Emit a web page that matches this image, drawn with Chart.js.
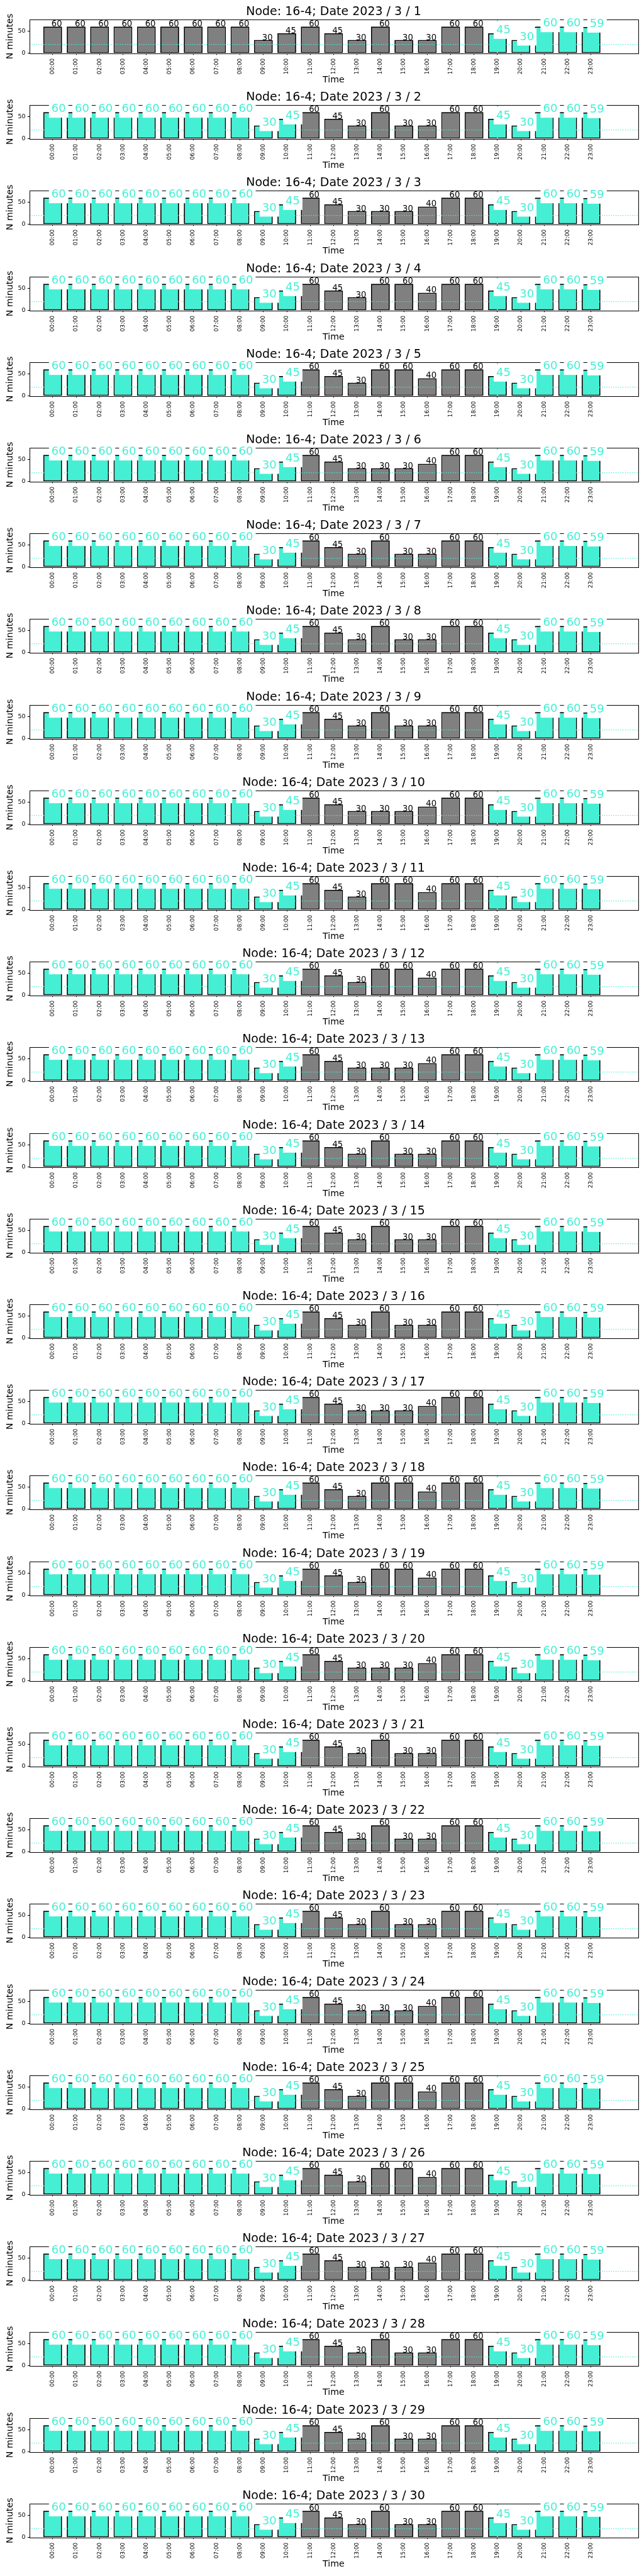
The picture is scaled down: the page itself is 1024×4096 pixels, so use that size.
<!DOCTYPE html>
<html>
<head>
<meta charset="utf-8">
<title>Node 16-4, March 2023</title>
<script src="https://cdn.jsdelivr.net/npm/chart.js@4.4.0/dist/chart.umd.min.js"></script>
<style>
  html, body { margin: 0; padding: 0; background: #fff; }
  #sheet { position: relative; width: 1024px; height: 4096px; overflow: hidden; }
  #sheet canvas { position: absolute; left: 0; }
</style>
</head>
<body>
<div id="sheet"></div>
<script>
// one panel per day

const nodeName = '16-4';
const year = 2023;
const month = 3;
const days = [1, 2, 3, 4, 5, 6, 7, 8, 9, 10, 11, 12, 13, 14, 15,
              16, 17, 18, 19, 20, 21, 22, 23, 24, 25, 26, 27, 28, 29, 30];

const hours = [0, 1, 2, 3, 4, 5, 6, 7, 8, 9, 10, 11,
               12, 13, 14, 15, 16, 17, 18, 19, 20, 21, 22, 23];
const hourLabels = ['00:00', '01:00', '02:00', '03:00', '04:00', '05:00',
                    '06:00', '07:00', '08:00', '09:00', '10:00', '11:00',
                    '12:00', '13:00', '14:00', '15:00', '16:00', '17:00',
                    '18:00', '19:00', '20:00', '21:00', '22:00', '23:00'];

// minutes recorded in each hour, one row per day
const minutes = [
  [60, 60, 60, 60, 60, 60, 60, 60, 60, 30, 45, 60, 45, 30, 60, 30, 30, 60, 60, 45, 30, 60, 60, 59], // 1
  [60, 60, 60, 60, 60, 60, 60, 60, 60, 30, 45, 60, 45, 30, 60, 30, 30, 60, 60, 45, 30, 60, 60, 59], // 2
  [60, 60, 60, 60, 60, 60, 60, 60, 60, 30, 45, 60, 45, 30, 30, 30, 40, 60, 60, 45, 30, 60, 60, 59], // 3
  [60, 60, 60, 60, 60, 60, 60, 60, 60, 30, 45, 60, 45, 30, 60, 60, 40, 60, 60, 45, 30, 60, 60, 59], // 4
  [60, 60, 60, 60, 60, 60, 60, 60, 60, 30, 45, 60, 45, 30, 60, 60, 40, 60, 60, 45, 30, 60, 60, 59], // 5
  [60, 60, 60, 60, 60, 60, 60, 60, 60, 30, 45, 60, 45, 30, 30, 30, 40, 60, 60, 45, 30, 60, 60, 59], // 6
  [60, 60, 60, 60, 60, 60, 60, 60, 60, 30, 45, 60, 45, 30, 60, 30, 30, 60, 60, 45, 30, 60, 60, 59], // 7
  [60, 60, 60, 60, 60, 60, 60, 60, 60, 30, 45, 60, 45, 30, 60, 30, 30, 60, 60, 45, 30, 60, 60, 59], // 8
  [60, 60, 60, 60, 60, 60, 60, 60, 60, 30, 45, 60, 45, 30, 60, 30, 30, 60, 60, 45, 30, 60, 60, 59], // 9
  [60, 60, 60, 60, 60, 60, 60, 60, 60, 30, 45, 60, 45, 30, 30, 30, 40, 60, 60, 45, 30, 60, 60, 59], // 10
  [60, 60, 60, 60, 60, 60, 60, 60, 60, 30, 45, 60, 45, 30, 60, 60, 40, 60, 60, 45, 30, 60, 60, 59], // 11
  [60, 60, 60, 60, 60, 60, 60, 60, 60, 30, 45, 60, 45, 30, 60, 60, 40, 60, 60, 45, 30, 60, 60, 59], // 12
  [60, 60, 60, 60, 60, 60, 60, 60, 60, 30, 45, 60, 45, 30, 30, 30, 40, 60, 60, 45, 30, 60, 60, 59], // 13
  [60, 60, 60, 60, 60, 60, 60, 60, 60, 30, 45, 60, 45, 30, 60, 30, 30, 60, 60, 45, 30, 60, 60, 59], // 14
  [60, 60, 60, 60, 60, 60, 60, 60, 60, 30, 45, 60, 45, 30, 60, 30, 30, 60, 60, 45, 30, 60, 60, 59], // 15
  [60, 60, 60, 60, 60, 60, 60, 60, 60, 30, 45, 60, 45, 30, 60, 30, 30, 60, 60, 45, 30, 60, 60, 59], // 16
  [60, 60, 60, 60, 60, 60, 60, 60, 60, 30, 45, 60, 45, 30, 30, 30, 40, 60, 60, 45, 30, 60, 60, 59], // 17
  [60, 60, 60, 60, 60, 60, 60, 60, 60, 30, 45, 60, 45, 30, 60, 60, 40, 60, 60, 45, 30, 60, 60, 59], // 18
  [60, 60, 60, 60, 60, 60, 60, 60, 60, 30, 45, 60, 45, 30, 60, 60, 40, 60, 60, 45, 30, 60, 60, 59], // 19
  [60, 60, 60, 60, 60, 60, 60, 60, 60, 30, 45, 60, 45, 30, 30, 30, 40, 60, 60, 45, 30, 60, 60, 59], // 20
  [60, 60, 60, 60, 60, 60, 60, 60, 60, 30, 45, 60, 45, 30, 60, 30, 30, 60, 60, 45, 30, 60, 60, 59], // 21
  [60, 60, 60, 60, 60, 60, 60, 60, 60, 30, 45, 60, 45, 30, 60, 30, 30, 60, 60, 45, 30, 60, 60, 59], // 22
  [60, 60, 60, 60, 60, 60, 60, 60, 60, 30, 45, 60, 45, 30, 60, 30, 30, 60, 60, 45, 30, 60, 60, 59], // 23
  [60, 60, 60, 60, 60, 60, 60, 60, 60, 30, 45, 60, 45, 30, 30, 30, 40, 60, 60, 45, 30, 60, 60, 59], // 24
  [60, 60, 60, 60, 60, 60, 60, 60, 60, 30, 45, 60, 45, 30, 60, 60, 40, 60, 60, 45, 30, 60, 60, 59], // 25
  [60, 60, 60, 60, 60, 60, 60, 60, 60, 30, 45, 60, 45, 30, 60, 60, 40, 60, 60, 45, 30, 60, 60, 59], // 26
  [60, 60, 60, 60, 60, 60, 60, 60, 60, 30, 45, 60, 45, 30, 30, 30, 40, 60, 60, 45, 30, 60, 60, 59], // 27
  [60, 60, 60, 60, 60, 60, 60, 60, 60, 30, 45, 60, 45, 30, 60, 30, 30, 60, 60, 45, 30, 60, 60, 59], // 28
  [60, 60, 60, 60, 60, 60, 60, 60, 60, 30, 45, 60, 45, 30, 60, 30, 30, 60, 60, 45, 30, 60, 60, 59], // 29
  [60, 60, 60, 60, 60, 60, 60, 60, 60, 30, 45, 60, 45, 30, 60, 30, 30, 60, 60, 45, 30, 60, 60, 59]  // 30
];

// grey ("day") hours run from dayFrom[d] to dayTo, the rest are highlighted
const dayFrom = [0, 11, 11, 11, 11, 11, 11, 11, 11, 11, 11, 11, 11, 11, 11,
                 11, 11, 11, 11, 11, 11, 11, 11, 11, 11, 11, 11, 11, 11, 11];
const dayTo = 18;

const thresholdMinutes = 20;   // dotted line
const markerHour = 19;         // vertical marker
const yTicks = [0, 50];

const turquoise = '#45EFD4';
const grey = '#808080';
const font = '"DejaVu Sans"';

Chart.defaults.font.family = font;
Chart.defaults.color = '#000';

const panelStep = 136.2;
const panelHeight = 136;

function isDayHour(d, h) {
  return h >= dayFrom[d] && h <= dayTo;
}

function makeDecor(d) {
  return {
    id: 'decor' + d,
    afterDatasetsDraw(chart) {
      const { ctx, chartArea: a, scales: { x, y } } = chart;
      ctx.save();

      // threshold line
      const ty = y.getPixelForValue(thresholdMinutes);
      ctx.strokeStyle = turquoise;
      ctx.lineWidth = 1.4;
      ctx.setLineDash([1.4, 2.3]);
      ctx.beginPath();
      ctx.moveTo(a.left, ty);
      ctx.lineTo(a.right, ty);
      ctx.stroke();
      ctx.setLineDash([]);

      // marker hour
      const mx = x.getPixelForValue(markerHour);
      ctx.lineWidth = 1.8;
      ctx.beginPath();
      ctx.moveTo(mx, a.top);
      ctx.lineTo(mx, a.bottom);
      ctx.stroke();

      // axes frame
      ctx.strokeStyle = '#000';
      ctx.lineWidth = 1;
      ctx.strokeRect(Math.round(a.left) + 0.5, Math.round(a.top) + 0.5,
                     Math.round(a.right - a.left), Math.round(a.bottom - a.top));

      // value labels
      ctx.textAlign = 'left';
      ctx.textBaseline = 'alphabetic';
      minutes[d].forEach((v, h) => {
        const px = x.getPixelForValue(h) - 2;
        const py = y.getPixelForValue(v);
        const txt = String(v);
        if (isDayHour(d, h)) {
          ctx.font = '13.2px ' + font;
          ctx.fillStyle = '#000';
          ctx.fillText(txt, px, py);
        } else {
          ctx.font = '18px ' + font;
          const w = ctx.measureText(txt).width;
          ctx.fillStyle = '#fff';
          ctx.fillRect(px - 4, py - 19, w + 8, 27.9);
          ctx.fillStyle = turquoise;
          ctx.fillText(txt, px, py);
        }
      });
      ctx.restore();
    }
  };
}

const sheet = document.getElementById('sheet');

days.forEach((day, d) => {
  const canvas = document.createElement('canvas');
  canvas.width = 1024;
  canvas.height = panelHeight;
  canvas.style.top = Math.round(d * panelStep) + 'px';
  sheet.appendChild(canvas);

  new Chart(canvas, {
    type: 'bar',
    data: {
      datasets: [{
        data: hours.map(h => ({ x: h, y: minutes[d][h] })),
        backgroundColor: hours.map(h => isDayHour(d, h) ? grey : turquoise),
        borderColor: '#000',
        borderWidth: 1.8,
        borderSkipped: false,
        categoryPercentage: 0.8,
        barPercentage: 1.0
      }]
    },
    options: {
      responsive: false,
      animation: false,
      devicePixelRatio: 1,
      layout: { padding: { left: 0, right: 9.7, top: 0, bottom: 0 } },
      plugins: {
        legend: { display: false },
        tooltip: { enabled: false },
        title: {
          display: true,
          text: 'Node: ' + nodeName + '; Date ' + year + ' / ' + month + ' / ' + day,
          font: { size: 19, weight: 'normal', lineHeight: 1.2 },
          color: '#000',
          padding: { top: 7.5, bottom: 0.6 },
          fullSize: false
        }
      },
      scales: {
        x: {
          type: 'linear',
          min: -1,
          max: 25,
          offset: false,
          afterBuildTicks: s => { s.ticks = hours.map(h => ({ value: h })); },
          afterFit: s => { s.height = 51.2; },
          ticks: {
            callback: v => hourLabels[v],
            autoSkip: false,
            minRotation: 90,
            maxRotation: 90,
            padding: 5.5,
            font: { size: 8.8 },
            color: '#000'
          },
          grid: { display: true, drawOnChartArea: false, drawTicks: true,
                  tickLength: 2.5, color: '#000', tickWidth: 1, offset: false },
          border: { display: false },
          title: { display: true, text: 'Time', font: { size: 14.2, lineHeight: 1.2 },
                   color: '#000', padding: { top: 0, bottom: 0 } }
        },
        y: {
          min: 0,
          max: 76,
          afterBuildTicks: s => { s.ticks = yTicks.map(v => ({ value: v })); },
          afterFit: s => { s.width = 46.6; },
          ticks: { padding: 3.4, font: { size: 9.5 }, color: '#000' },
          grid: { display: true, drawOnChartArea: false, drawTicks: true,
                  tickLength: 2.7, color: '#000', tickWidth: 1 },
          border: { display: false },
          title: { display: true, text: 'N minutes', font: { size: 14.2, lineHeight: 1.2 },
                   color: '#000', padding: { top: 7.4, bottom: 0 } }
        }
      }
    },
    plugins: [makeDecor(d)]
  });
});
</script>
</body>
</html>
